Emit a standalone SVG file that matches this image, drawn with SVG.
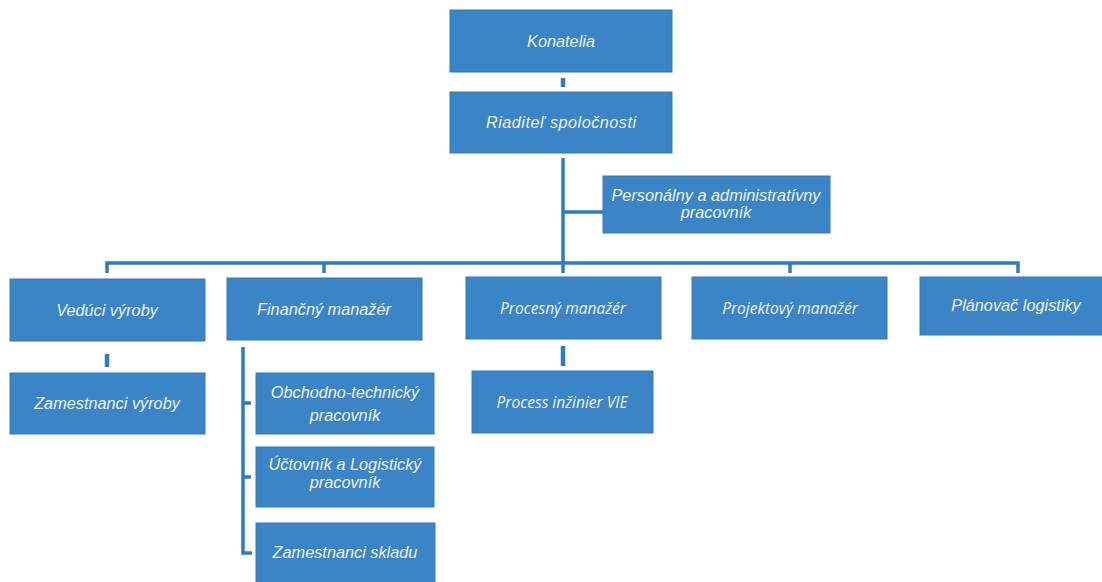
<svg xmlns="http://www.w3.org/2000/svg" width="1102" height="582" viewBox="0 0 1102 582">
<style>
.box{fill:#3b84c6;stroke:#3579bb;stroke-width:1}
.t{font-family:"Liberation Sans",Arial,sans-serif;font-style:italic;font-size:16.3px;fill:#eef3f9;text-anchor:middle}
.o{font-family:"Open Sans","Liberation Sans",sans-serif;font-style:italic;font-size:15.5px;fill:#eef3f9;text-anchor:middle}
.ln{fill:none;stroke:#2f7bc2;stroke-width:3.5}
.st{fill:none;stroke:#2f7bc2;stroke-width:4.5}
</style>
<rect width="1102" height="582" fill="#ffffff"/>
<g id="connectors">
<path class="st" d="M563,78 V87"/>
<path class="ln" d="M563,158 V263"/>
<path class="ln" d="M563,212 H603"/>
<path class="ln" d="M107,273 V263 H1018 V273"/>
<path class="ln" d="M324,263 V273"/>
<path class="ln" d="M563,263 V273"/>
<path class="ln" d="M790,263 V273"/>
<path class="st" d="M107,354 V367"/>
<path class="st" d="M563,346 V366"/>
<path class="ln" d="M243,347 V553 H252"/>
<path class="ln" d="M243,403 H251"/>
<path class="ln" d="M243,477 H251"/>
</g>
<g id="konatelia"><rect class="box" x="450" y="10" width="222" height="62"/><text class="t" x="561" y="46.5">Konatelia</text></g>
<g id="riaditel"><rect class="box" x="450" y="92" width="222" height="61"/><text class="t" x="561" y="128" textLength="150" lengthAdjust="spacing">Riaditeľ spoločnosti</text></g>
<g id="personalny"><rect class="box" x="603" y="176" width="227" height="57"/><text class="t" x="716" y="201">Personálny a administratívny</text><text class="t" x="716" y="218">pracovník</text></g>
<g id="veduci"><rect class="box" x="10" y="279" width="195" height="62"/><text class="t" x="107" y="315.5">Vedúci výroby</text></g>
<g id="financny"><rect class="box" x="227" y="278" width="195" height="62"/><text class="t" x="324" y="314.5">Finančný manažér</text></g>
<g id="procesny"><rect class="box" x="466" y="277" width="195" height="62"/><text class="o" x="563" y="313.5">Procesný manažér</text></g>
<g id="projektovy"><rect class="box" x="692" y="277" width="195" height="62"/><text class="o" x="790" y="313.5">Projektový manažér</text></g>
<g id="planovac"><rect class="box" x="920" y="277" width="195" height="58"/><text class="t" x="1016" y="311">Plánovač logistiky</text></g>
<g id="zamestnanci-vyroby"><rect class="box" x="10" y="373" width="195" height="61"/><text class="t" x="107" y="409">Zamestnanci výroby</text></g>
<g id="process-inzinier"><rect class="box" x="472" y="371" width="181" height="62"/><text class="o" x="562" y="407.5">Process inžinier VIE</text></g>
<g id="obchodno"><rect class="box" x="256" y="373" width="178" height="61"/><text class="t" x="345" y="398">Obchodno-technický</text><text class="t" x="345" y="421">pracovník</text></g>
<g id="uctovnik"><rect class="box" x="256" y="447" width="178" height="60"/><text class="t" x="345" y="470">Účtovník a Logistický</text><text class="t" x="345" y="488">pracovník</text></g>
<g id="zamestnanci-skladu"><rect class="box" x="256" y="523" width="179" height="62"/><text class="t" x="345" y="558">Zamestnanci skladu</text></g>
</svg>
